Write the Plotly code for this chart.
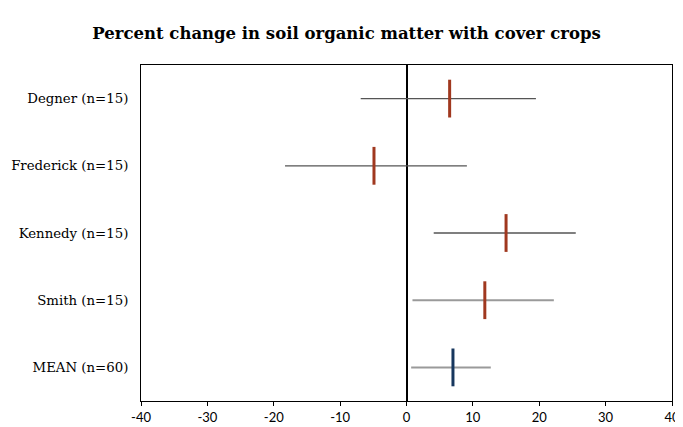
import plotly.graph_objects as go

categories = ["Degner (n=15)", "Frederick (n=15)", "Kennedy (n=15)", "Smith (n=15)", "MEAN (n=60)"]
means = [6.5, -4.9, 15.0, 11.8, 7.0]
lows = [-6.9, -18.3, 4.1, 0.9, 0.7]
highs = [19.5, 9.1, 25.5, 22.2, 12.7]
mark_colors = ["#A0381F", "#A0381F", "#A0381F", "#A0381F", "#17375E"]
bar_colors = ["#555555", "#555555", "#555555", "#9A9A9A", "#9A9A9A"]
bar_widths = [1.3, 1.3, 1.3, 2, 2]
xticks = [-40, -30, -20, -10, 0, 10, 20, 30, 40]

fig = go.Figure()
for c, m, lo, hi, mc, bc, bw in zip(categories, means, lows, highs, mark_colors, bar_colors, bar_widths):
    fig.add_trace(go.Scatter(
        x=[m], y=[c], mode="markers",
        marker=dict(symbol="line-ns", size=27, line=dict(width=3, color=mc), color=mc),
        error_x=dict(type="data", symmetric=False, array=[hi - m], arrayminus=[m - lo],
                     width=0, thickness=bw, color=bc),
        showlegend=False, hoverinfo="x+y",
    ))

# page body has an 8px margin, so the figure is sized/offset to compensate
fig.update_layout(
    width=675, height=419,
    margin=dict(l=133, r=11, t=57, b=26),
    paper_bgcolor="white", plot_bgcolor="white",
    title=dict(text="<b>Percent change in soil organic matter with cover crops</b>",
               x=0.5015, xanchor="center", y=0.940, yanchor="middle",
               font=dict(family="DejaVu Serif", size=16.5, color="black")),
    xaxis=dict(range=[-40, 40], tickvals=xticks, ticktext=[str(v) for v in xticks],
               showgrid=False, zeroline=True, zerolinecolor="black", zerolinewidth=2,
               showline=True, linecolor="black", linewidth=1, mirror=True,
               ticks="outside", ticklen=4, tickcolor="black", automargin=False,
               tickfont=dict(family="Lato", size=13, color="black")),
    yaxis=dict(type="category", categoryorder="array", categoryarray=categories[::-1],
               range=[-0.5, 4.5], showgrid=False, showline=True, linecolor="black",
               linewidth=1, mirror=True, ticks="", ticklabelstandoff=9, automargin=False,
               tickfont=dict(family="DejaVu Serif", size=13.3, color="black")),
)

fig.write_html("out.html")
